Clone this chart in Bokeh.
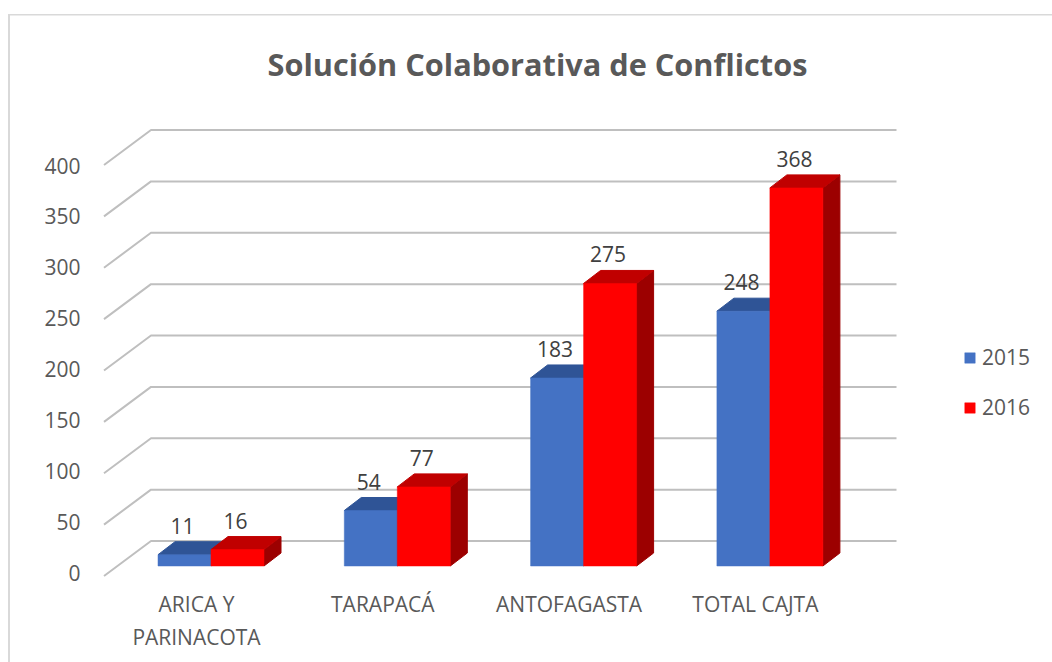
from bokeh.plotting import figure
from bokeh.models import (ColumnDataSource, Range1d, LinearAxis, FixedTicker, Legend, LegendItem, Title)
from bokeh.core.properties import value
from bokeh.embed import file_html
from bokeh.resources import INLINE

categories = ["ARICA Y\nPARINACOTA", "TARAPACÁ", "ANTOFAGASTA", "TOTAL CAJTA"]
v2015 = [11, 54, 183, 248]
v2016 = [16, 77, 275, 368]
ticks = [0, 50, 100, 150, 200, 250, 300, 350, 400]
title_text = "Solución Colaborativa de Conflictos"

FONT = "Open Sans"
W, H = 1052, 662
F_L, F_R, F_T, F_B = 95, 1044, 100, 578   # frame edges in page pixels
PX_CAT, CAT1 = 186.3, 210.5        # px per category, page x of category 1
PX_VAL, BASE = 1.0275, 565.5       # px per value, page y of value 0

xr = Range1d(1 + (F_L - CAT1) / PX_CAT, 1 + (F_R - CAT1) / PX_CAT)
yr = Range1d((BASE - F_B) / PX_VAL, (BASE - F_T) / PX_VAL)

p = figure(width=W, height=H, x_range=xr, y_range=yr, output_backend="svg", toolbar_location=None,
           min_border_left=F_L, min_border_right=W - F_R,
           min_border_top=F_T, min_border_bottom=H - F_B,
           x_axis_location=None, y_axis_location=None)
p.outline_line_color = None
p.grid.visible = False
p.background_fill_alpha = 0
p.border_fill_alpha = 0

# outer border of the chart area (only the top and left edges are in view)
p.styles = {
    "background-color": "white",
    "background-image": "linear-gradient(#D9D9D9,#D9D9D9),linear-gradient(#D9D9D9,#D9D9D9)",
    "background-repeat": "no-repeat",
    "background-position": "8px 14px,8px 14px",
    "background-size": "1044px 1.5px,2px 648px",
}


def px_x(px):
    return 1 + (px - CAT1) / PX_CAT


# wall grid lines
wall_dx = 47 / PX_CAT
back_x0 = px_x(150.5)
back_x1 = px_x(896)
back_up = 25 / PX_VAL
front_dn = 10 / PX_VAL
p.multi_line([[back_x0 - wall_dx, back_x0, back_x1] for t in ticks],
             [[t - front_dn, t + back_up, t + back_up] for t in ticks],
             line_color="#BFBFBF", line_width=2)

# bars
bw = 53 / PX_CAT
dx, dy = 17 / PX_CAT, 13 / PX_VAL
xs = [i + 1 for i in range(len(categories))]


def bars(vals, off, front, top, side):
    cx = [x + off for x in xs]
    p.patches([[c + bw / 2, c + bw / 2 + dx, c + bw / 2 + dx, c + bw / 2] for c in cx],
              [[0, dy, v + dy, v] for v in vals], fill_color=side, line_color=side)
    p.patches([[c - bw / 2, c - bw / 2 + dx, c + bw / 2 + dx, c + bw / 2] for c in cx],
              [[v, v + dy, v + dy, v] for v in vals], fill_color=top, line_color=top)
    return p.vbar(x=cx, top=vals, bottom=0, width=bw, fill_color=front, line_color=front, line_width=0.5)


r15 = bars(v2015, -bw / 2, "#4472C4", "#2F5496", "#2F5496")
r16 = bars(v2016, bw / 2, "#FF0000", "#C00000", "#9C0000")

# data labels
for vals, off in ((v2015, -bw / 2), (v2016, bw / 2)):
    src = ColumnDataSource(dict(x=[x + off - 2 / PX_CAT for x in xs], y=[v + dy + 16 / PX_VAL for v in vals],
                                t=[str(v) for v in vals]))
    p.text("x", "y", text="t", source=src, text_align="center", text_baseline="middle",
           text_font=value(FONT), text_font_size="21px", text_color="#404040")

# value axis
p.extra_y_ranges["labels"] = Range1d((572 - F_B) / 1.0175, (572 - F_T) / 1.0175)
ya = LinearAxis(y_range_name="labels", ticker=FixedTicker(ticks=ticks), axis_line_color=None,
                major_tick_line_color=None, minor_tick_line_color=None, major_label_standoff=9,
                major_label_text_font=FONT, major_label_text_font_size="21px", major_label_text_color="#595959")
p.add_layout(ya, "left")

# category axis
p.extra_x_ranges["labels"] = Range1d(1 + (F_L - 196) / PX_CAT, 1 + (F_R - 196) / PX_CAT)
xa = LinearAxis(x_range_name="labels", ticker=FixedTicker(ticks=xs), axis_line_color=None,
                major_tick_line_color=None, minor_tick_line_color=None, major_label_standoff=5,
                major_label_overrides={x: c for x, c in zip(xs, categories)},
                major_label_text_font=FONT, major_label_text_font_size="21px", major_label_text_color="#595959")
p.add_layout(xa, "below")

# title
p.add_layout(Title(text=title_text, align="left", offset=267 - F_L, standoff=32,
                   text_font=FONT, text_font_style="bold", text_font_size="30.7px", text_color="#595959"), "above")

# legend
leg = Legend(items=[LegendItem(label="2015", renderers=[r15]), LegendItem(label="2016", renderers=[r16])],
             location=(963 - F_L, F_B - 422), orientation="vertical", border_line_color=None,
             background_fill_alpha=0, glyph_width=13, glyph_height=13, label_height=30, spacing=20,
             padding=4, margin=0, label_standoff=6,
             label_text_font=FONT, label_text_font_size="21px", label_text_color="#595959")
p.add_layout(leg, "center")

open("out.html", "w").write(file_html(p, INLINE))
